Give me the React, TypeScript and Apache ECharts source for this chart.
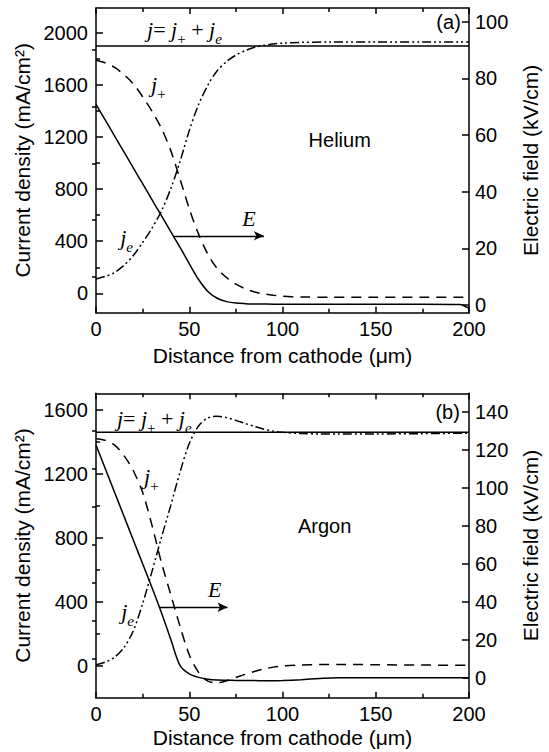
import React, { useEffect, useRef } from "react";
import * as echarts from "echarts";

// ---------- Data ----------
const distTicks = [0, 50, 100, 150, 200];

// (a) Helium
const heX = [0, 5, 10, 15, 20, 25, 30, 35, 40, 45, 50, 55, 60, 65, 70, 75, 80, 85, 90, 95, 100, 110, 125, 150, 175, 195, 200];
const heJplus = [1790, 1770, 1735, 1680, 1610, 1510, 1400, 1270, 1100, 880, 650, 455, 300, 190, 120, 70, 35, 10, -5, -15, -22, -28, -30, -30, -30, -30, -30];
const heJe = [110, 130, 160, 215, 290, 390, 500, 630, 800, 1010, 1250, 1450, 1600, 1710, 1780, 1830, 1865, 1890, 1905, 1915, 1922, 1928, 1930, 1930, 1930, 1930, 1930];
const heE = [70.8, 65.2, 59.6, 54, 48.4, 42.8, 37.2, 31.6, 26, 20.4, 14.6, 9, 4.8, 2.4, 1.2, 0.7, 0.5, 0.4, 0.35, 0.3, 0.3, 0.3, 0.3, 0.3, 0.3, 0.2, -1.2];
const heJTotal = 1900;
const heJTicks = [0, 400, 800, 1200, 1600, 2000];
const heJMinor = [200, 600, 1000, 1400, 1800];
const heETicks = [0, 20, 40, 60, 80, 100];
const heEMinor = [10, 30, 50, 70, 90];
const heArrow = [[41.6, 442], [90, 442]];

// (b) Argon
const arX = [0, 5, 10, 15, 20, 25, 30, 35, 40, 45, 50, 55, 60, 65, 70, 75, 80, 85, 90, 95, 100, 110, 120, 130, 150, 175, 200];
const arJplus = [1420, 1410, 1380, 1315, 1220, 1085, 880, 650, 450, 250, 70, -40, -95, -105, -92, -72, -52, -34, -18, -7, 0, 6, 9, 10, 8, 6, 4];
const arJe = [8, 25, 55, 115, 220, 390, 590, 800, 1000, 1210, 1390, 1500, 1550, 1560, 1552, 1535, 1515, 1497, 1480, 1468, 1460, 1453, 1450, 1449, 1450, 1452, 1455];
const arE = [122.5, 110, 97.5, 85, 72.5, 60, 47.5, 34.5, 20.5, 6.5, 2, 0.2, -0.8, -1.2, -1.3, -1.4, -1.5, -1.5, -1.6, -1.6, -1.5, -1, -0.4, 0, 0, 0, 0];
const arJTotal = 1460;
const arJTicks = [0, 400, 800, 1200, 1600];
const arJMinor = [200, 600, 1000, 1400];
const arETicks = [0, 20, 40, 60, 80, 100, 120, 140];
const arEMinor = [10, 30, 50, 70, 90, 110, 130];
const arArrow = [[34.2, 367], [70.5, 367]];

const SANS = "Liberation Sans, Arial, Helvetica, sans-serif";
const SERIF = "Liberation Serif, Times New Roman, serif";
const FS = 20;
const NFS = 21;

const pairs = (xs: number[], ys: number[]) => xs.map((x, i) => [x, ys[i]]);
const plain = (v: number) => String(v);

function xAxes(gridIndex: number, nameGap: number) {
  const base = {
    gridIndex,
    type: "value",
    min: 0,
    max: 200,
    interval: 50,
    axisLine: { show: true, onZero: false, lineStyle: { color: "#000", width: 1.5 } },
    axisTick: { show: true, inside: true, length: 6, lineStyle: { color: "#000", width: 1.5 } },
    minorTick: { show: true, splitNumber: 2, length: 4, lineStyle: { color: "#000", width: 1.5 } },
    splitLine: { show: false },
  };
  return [
    {
      ...base,
      position: "bottom",
      axisLabel: {
        show: true,
        fontFamily: SANS,
        fontSize: FS,
        color: "#000",
        margin: 6,
        customValues: distTicks,
        formatter: plain,
      },
      name: "Distance from cathode (μm)",
      nameLocation: "middle",
      nameGap,
      nameTextStyle: { fontFamily: SANS, fontSize: NFS, color: "#000" },
    },
    { ...base, position: "top", axisLabel: { show: false } },
  ];
}

function yPair(
  gridIndex: number,
  position: string,
  min: number,
  max: number,
  ticks: number[],
  minor: number[],
  name: string,
  nameGap: number
) {
  return [
    {
      gridIndex,
      type: "value",
      position,
      min,
      max,
      axisLine: { show: true, onZero: false, lineStyle: { color: "#000", width: 1.5 } },
      axisTick: {
        show: true,
        inside: true,
        length: 7,
        customValues: ticks,
        lineStyle: { color: "#000", width: 1.5 },
      },
      axisLabel: {
        show: true,
        customValues: ticks,
        formatter: plain,
        fontFamily: SANS,
        fontSize: FS,
        color: "#000",
        margin: position === "left" ? 8 : 6,
      },
      splitLine: { show: false },
      name,
      nameLocation: "middle",
      nameRotate: 90,
      nameGap,
      nameTextStyle: { fontFamily: SANS, fontSize: NFS, color: "#000" },
    },
    {
      gridIndex,
      type: "value",
      position,
      min,
      max,
      axisLine: { show: false },
      axisTick: {
        show: true,
        inside: true,
        length: 4,
        customValues: minor,
        lineStyle: { color: "#000", width: 1.5 },
      },
      axisLabel: { show: false },
      splitLine: { show: false },
    },
  ];
}

const LW = 1.5;
function panelSeries(
  xIdx: number,
  yLeft: number,
  yRight: number,
  xs: number[],
  jTotal: number,
  jplus: number[],
  je: number[],
  e: number[],
  arrow: number[][]
) {
  const common = {
    type: "line",
    xAxisIndex: xIdx,
    showSymbol: false,
    symbol: "none",
    silent: true,
    smooth: 0.3,
  };
  return [
    {
      ...common,
      name: "j",
      yAxisIndex: yLeft,
      smooth: false,
      data: [
        [0, jTotal],
        [200, jTotal],
      ],
      lineStyle: { color: "#000", width: LW, type: "solid" },
      markLine: {
        silent: true,
        symbol: ["none", "arrow"],
        symbolSize: [7, 10],
        label: { show: false },
        lineStyle: { color: "#000", width: 1.3, type: "solid" },
        data: [[{ coord: arrow[0] }, { coord: arrow[1] }]],
      },
    },
    {
      ...common,
      name: "j+",
      yAxisIndex: yLeft,
      data: pairs(xs, jplus),
      lineStyle: { color: "#000", width: LW, type: [10, 7] },
    },
    {
      ...common,
      name: "je",
      yAxisIndex: yLeft,
      data: pairs(xs, je),
      lineStyle: { color: "#000", width: LW, type: [9, 3, 2, 3, 2, 3] },
    },
    {
      ...common,
      name: "E",
      yAxisIndex: yRight,
      data: pairs(xs, e),
      lineStyle: { color: "#000", width: LW, type: "solid" },
    },
  ];
}

// annotation anchors in data coordinates (left axis of each panel)
type Ann = { grid: number; x: number; y: number; kind: string; text?: string };
const annotations: Ann[] = [
  { grid: 0, x: 27.4, y: 2010, kind: "jsum" },
  { grid: 0, x: 29.5, y: 1590, kind: "jplus" },
  { grid: 0, x: 13, y: 410, kind: "je" },
  { grid: 0, x: 78.4, y: 558, kind: "E" },
  { grid: 0, x: 114, y: 1178, kind: "plain", text: "Helium" },
  { grid: 0, x: 182.5, y: 2085, kind: "plain", text: "(a)" },
  { grid: 1, x: 11.2, y: 1537, kind: "jsum" },
  { grid: 1, x: 25.8, y: 1170, kind: "jplus" },
  { grid: 1, x: 13.5, y: 329, kind: "je" },
  { grid: 1, x: 60, y: 464, kind: "E" },
  { grid: 1, x: 108.3, y: 877, kind: "plain", text: "Argon" },
  { grid: 1, x: 182, y: 1589, kind: "plain", text: "(b)" },
];

const rich = {
  i: { fontFamily: SERIF, fontStyle: "italic", fontSize: 22, lineHeight: 26, verticalAlign: "top", color: "#000" },
  n: { fontFamily: SERIF, fontSize: 22, lineHeight: 26, verticalAlign: "top", color: "#000" },
  sp: { fontFamily: SERIF, fontSize: 15, lineHeight: 15, padding: [13, 0, 0, 0], verticalAlign: "top", color: "#000" },
  si: { fontFamily: SERIF, fontStyle: "italic", fontSize: 15, lineHeight: 15, padding: [13, 0, 0, 0], verticalAlign: "top", color: "#000" },
};

function annText(a: Ann) {
  switch (a.kind) {
    case "jsum":
      return "{i|j}{n|= }{i|j}{sp|+}{n| + }{i|j}{si|e}";
    case "jplus":
      return "{i|j}{sp|+}";
    case "je":
      return "{i|j}{si|e}";
    case "E":
      return "{i|E}";
    default:
      return a.text || "";
  }
}

export default function App() {
  const ref = useRef<HTMLDivElement>(null);
  useEffect(() => {
    if (!ref.current) return;
    const chart = echarts.init(ref.current, null, { renderer: "svg" });
    const option: any = {
      animation: false,
      backgroundColor: "#fff",
      grid: [
        { left: 96, top: 8, width: 380, height: 304.7, containLabel: false },
        { left: 96, top: 393.3, width: 380, height: 304.4, containLabel: false },
      ],
      xAxis: [...xAxes(0, 32), ...xAxes(1, 29)],
      yAxis: [
        ...yPair(0, "left", -149, 2192, heJTicks, heJMinor, "Current density (mA/cm²)", 48),
        ...yPair(0, "right", -2.7, 104.8, heETicks, heEMinor, "Electric field (kV/cm)", 51),
        ...yPair(1, "left", -198, 1704, arJTicks, arJMinor, "Current density (mA/cm²)", 48),
        ...yPair(1, "right", -10.5, 149.7, arETicks, arEMinor, "Electric field (kV/cm)", 51),
      ],
      series: [
        ...panelSeries(0, 0, 2, heX, heJTotal, heJplus, heJe, heE, heArrow),
        ...panelSeries(2, 4, 6, arX, arJTotal, arJplus, arJe, arE, arArrow),
      ],
    };
    chart.setOption(option);

    const graphic = annotations.map((a) => {
      const p = chart.convertToPixel(
        { xAxisIndex: a.grid === 0 ? 0 : 2, yAxisIndex: a.grid === 0 ? 0 : 4 } as any,
        [a.x, a.y]
      ) as number[];
      if (a.kind === "plain") {
        return {
          type: "text",
          x: p[0],
          y: p[1],
          silent: true,
          style: {
            text: a.text,
            fontFamily: SANS,
            fontSize: FS,
            fill: "#000",
            align: "left",
            verticalAlign: "middle",
          },
        };
      }
      return {
        type: "text",
        x: p[0],
        y: p[1],
        silent: true,
        style: {
          text: annText(a),
          rich,
          fill: "#000",
          align: "left",
          verticalAlign: "middle",
        },
      };
    });
    chart.setOption({ graphic });
    return () => chart.dispose();
  }, []);
  return (
    <div
      ref={ref}
      style={{ position: "fixed", left: 0, top: 0, width: 549, height: 752, background: "#fff" }}
    />
  );
}
